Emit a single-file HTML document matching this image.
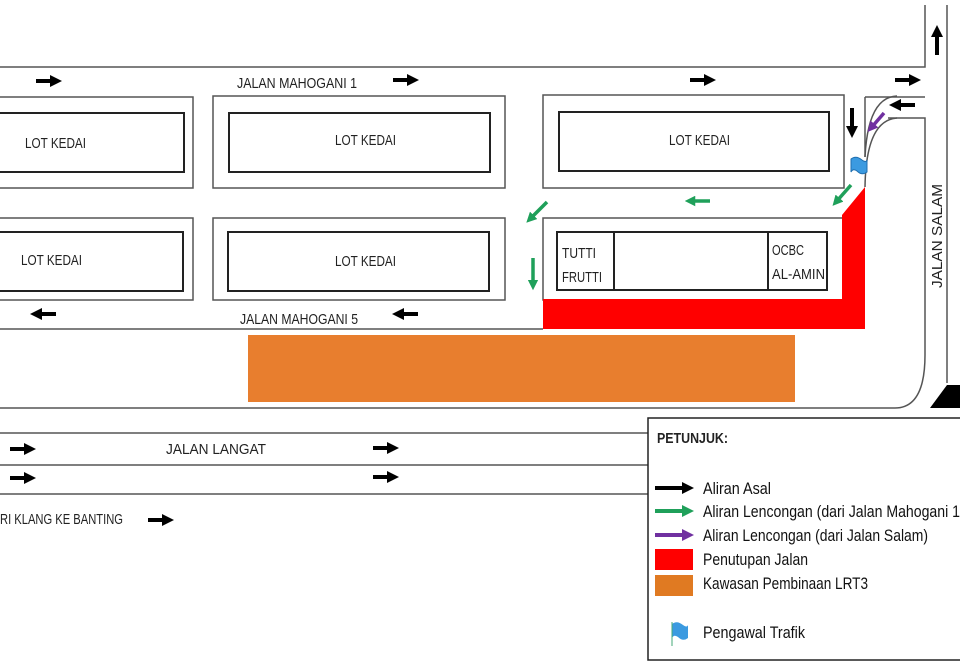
<!DOCTYPE html>
<html><head><meta charset="utf-8"><style>
html,body{margin:0;padding:0;background:#fff;}
svg{display:block;font-family:"Liberation Sans",sans-serif;}
</style></head><body>
<svg width="960" height="666" viewBox="0 0 960 666" xmlns="http://www.w3.org/2000/svg">
<defs>
<marker id="ab" viewBox="0 0 10 10" refX="5" refY="5" markerWidth="3" markerHeight="3" orient="auto"><path d="M0,0L10,5L0,10z" fill="#000"/></marker>
<marker id="ag" viewBox="0 0 10 10" refX="5" refY="5" markerWidth="3" markerHeight="3" orient="auto"><path d="M0,0L10,5L0,10z" fill="#1fa05a"/></marker>
<marker id="ap" viewBox="0 0 10 10" refX="5" refY="5" markerWidth="3" markerHeight="3" orient="auto"><path d="M0,0L10,5L0,10z" fill="#7030a0"/></marker>
</defs>
<g stroke="#555" stroke-width="1.5" fill="none">
<path d="M0,67H925V5"/>
<path d="M947,5V383"/>
<path d="M865,97H925"/>
<path d="M888,118H925V355Q925,408 895,408H0"/>
<path d="M865,157Q868,97 897,96"/>
<path d="M865,187Q866,120 897,118"/>
<path d="M865,97V157"/>
<path d="M0,329H543"/>
<rect x="-2" y="97" width="195" height="91"/>
<rect x="213" y="96" width="292" height="92"/>
<rect x="543" y="95" width="301" height="93"/>
<rect x="-2" y="218" width="195" height="82"/>
<rect x="213" y="218" width="292" height="82"/>
<rect x="543" y="218" width="300" height="82"/>
<path d="M0,433H648M0,465H648M0,494H648"/>
</g>
<g stroke="#222" stroke-width="2" fill="none">
<rect x="-2" y="113" width="186" height="59"/>
<rect x="229" y="113" width="261" height="59"/>
<rect x="559" y="112" width="270" height="59"/>
<rect x="-2" y="232" width="185" height="59"/>
<rect x="228" y="232" width="261" height="59"/>
<rect x="557" y="232" width="270" height="58"/>
<path d="M614,232V290M768,232V290"/>
</g>
<path d="M543,299H842V215L865,187V329H543z" fill="#f00"/>
<rect x="248" y="335" width="547" height="67" fill="#e87e2e"/>
<path d="M930,408L947,385L960,385V408z" fill="#000"/>
<g font-size="15" fill="#222" lengthAdjust="spacingAndGlyphs">
<text x="25" y="148" textLength="61" lengthAdjust="spacingAndGlyphs">LOT KEDAI</text>
<text x="335" y="145" textLength="61" lengthAdjust="spacingAndGlyphs">LOT KEDAI</text>
<text x="669" y="145" textLength="61" lengthAdjust="spacingAndGlyphs">LOT KEDAI</text>
<text x="21" y="265" textLength="61" lengthAdjust="spacingAndGlyphs">LOT KEDAI</text>
<text x="335" y="266" textLength="61" lengthAdjust="spacingAndGlyphs">LOT KEDAI</text>
<text x="562" y="258" textLength="34" lengthAdjust="spacingAndGlyphs">TUTTI</text>
<text x="562" y="282" textLength="40" lengthAdjust="spacingAndGlyphs">FRUTTI</text>
<text x="772" y="255" textLength="32" lengthAdjust="spacingAndGlyphs">OCBC</text>
<text x="772" y="279" textLength="53" lengthAdjust="spacingAndGlyphs">AL-AMIN</text>
<text x="237" y="88" textLength="120" lengthAdjust="spacingAndGlyphs">JALAN MAHOGANI 1</text>
<text x="240" y="324" textLength="118" lengthAdjust="spacingAndGlyphs">JALAN MAHOGANI 5</text>
<text x="166" y="454" textLength="100" lengthAdjust="spacingAndGlyphs">JALAN LANGAT</text>
<text x="0" y="524" textLength="123" lengthAdjust="spacingAndGlyphs">RI KLANG KE BANTING</text>
<text transform="translate(942,288) rotate(-90)" textLength="104" lengthAdjust="spacingAndGlyphs">JALAN SALAM</text>
</g>
<g stroke="#000" stroke-width="4" marker-end="url(#ab)">
<path d="M36,81H56"/><path d="M393,80H413"/><path d="M690,80H710"/><path d="M895,80H915"/>
<path d="M915,105H895"/><path d="M852,108V132"/><path d="M937,55V31"/>
<path d="M56,314H36"/><path d="M418,314H398"/>
<path d="M10,449H30"/><path d="M373,448H393"/><path d="M10,478H30"/><path d="M373,477H393"/>
<path d="M148,520H168"/>
</g>
<g stroke="#1fa05a" stroke-width="3.5" marker-end="url(#ag)">
<path d="M710,201H690"/><path d="M851,185L836,202"/><path d="M547,202L530,219"/><path d="M533,258V285"/>
</g>
<path d="M884,113L871,128" stroke="#7030a0" stroke-width="3.5" marker-end="url(#ap)"/>
<path d="M851,159Q856,155 862,160Q866,163 867,160V172Q862,176 857,171Q853,168 851,172z" fill="#3b9ae0" stroke="#1f6fb0"/>
<rect x="648" y="418" width="320" height="242" fill="#fff" stroke="#222" stroke-width="1.5"/>
<text x="657" y="443" font-size="15" font-weight="bold" fill="#222" textLength="71" lengthAdjust="spacingAndGlyphs">PETUNJUK:</text>
<g stroke-width="4">
<path d="M655,488H688" stroke="#000" marker-end="url(#ab)"/>
<path d="M655,511H688" stroke="#1fa05a" marker-end="url(#ag)"/>
<path d="M655,535H688" stroke="#7030a0" marker-end="url(#ap)"/>
</g>
<rect x="655" y="549" width="38" height="21" fill="#f00"/>
<rect x="655" y="575" width="38" height="21" fill="#e07a22"/>
<path d="M672,624Q677,620 683,625Q687,628 688,625V638Q683,642 678,637Q674,634 672,638z" fill="#3b9ae0"/>
<path d="M672,622V646" stroke="#4a7" stroke-width="1"/>
<g font-size="17" fill="#111">
<text x="703" y="494" textLength="68" lengthAdjust="spacingAndGlyphs">Aliran Asal</text>
<text x="703" y="517" textLength="257" lengthAdjust="spacingAndGlyphs">Aliran Lencongan (dari Jalan Mahogani 1</text>
<text x="703" y="541" textLength="225" lengthAdjust="spacingAndGlyphs">Aliran Lencongan (dari Jalan Salam)</text>
<text x="703" y="565" textLength="105" lengthAdjust="spacingAndGlyphs">Penutupan Jalan</text>
<text x="703" y="589" textLength="165" lengthAdjust="spacingAndGlyphs">Kawasan Pembinaan LRT3</text>
<text x="703" y="638" textLength="102" lengthAdjust="spacingAndGlyphs">Pengawal Trafik</text>
</g>
</svg>
</body></html>
